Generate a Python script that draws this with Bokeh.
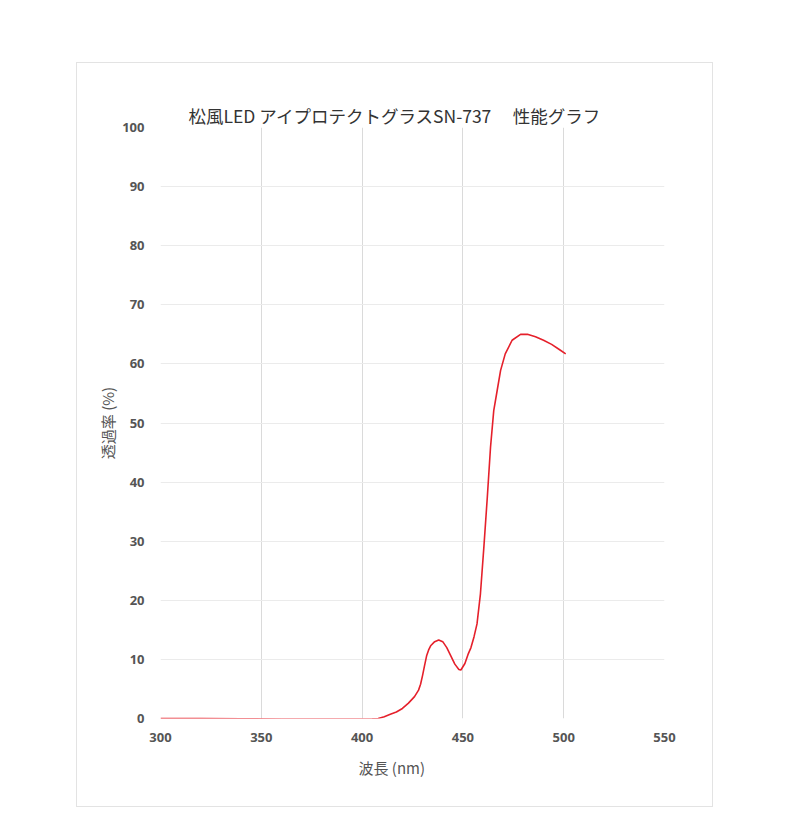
from bokeh.plotting import figure
from bokeh.models import Range1d, FixedTicker, Title
from bokeh.embed import file_html
from bokeh.resources import INLINE

# 波長 (nm) と 透過率 (%)
wavelength = [300, 320, 340, 360, 380, 400, 405, 408, 411, 414, 417, 420, 423, 426,
              428, 429, 430, 431, 432, 433, 434, 436, 438, 440, 442, 444, 446, 448,
              449, 451, 452.5, 454, 455.5, 457, 458.7, 460.4, 462.1, 463.7, 465.3,
              467, 468.7, 471, 474.4, 478.6, 482, 486, 490, 494, 498, 501]
transmit = [0.0, 0.0, -0.05, -0.1, -0.1, -0.1, -0.05, 0.0, 0.3, 0.7, 1.1, 1.7, 2.6, 3.7,
            4.8, 5.8, 7.3, 9.0, 10.6, 11.6, 12.3, 13.0, 13.3, 13.0, 12.0, 10.6, 9.2, 8.3,
            8.2, 9.3, 10.8, 12.0, 13.8, 16.0, 21.1, 29.0, 37.4, 45.9, 52.1,
            55.5, 58.9, 61.7, 64.0, 65.0, 65.0, 64.6, 64.0, 63.3, 62.4, 61.7]

x_ticks = [300, 350, 400, 450, 500, 550]
y_ticks = [0, 10, 20, 30, 40, 50, 60, 70, 80, 90, 100]

p = figure(width=780, height=830, output_backend="svg", toolbar_location=None,
           x_range=Range1d(300, 550), y_range=Range1d(0, 100),
           min_border_left=160, min_border_right=116,
           min_border_top=127, min_border_bottom=112)

p.line(wavelength, transmit, line_color="#e5202b", line_width=1.6)

# タイトル (外側)
p.title.text = "松風LED アイプロテクトグラスSN-737　 性能グラフ"
p.title.align = "left"
p.title.offset = 28
p.title.standoff = 0
p.title.text_font = "Noto Sans CJK JP"
p.title.text_font_style = "normal"
p.title.text_font_size = "17.5px"
p.title.text_color = "#333333"

# タイトルと枠の間の余白
p.add_layout(Title(text=" ", standoff=59, text_font_size="17.5px", text_alpha=0), "above")

# 軸
for ax in (p.xaxis, p.yaxis):
    ax.axis_line_color = None
    ax.major_tick_line_color = None
    ax.minor_tick_line_color = None
    ax.major_label_text_font = "Open Sans"
    ax.major_label_text_font_style = "bold"
    ax.major_label_text_font_size = "13px"
    ax.major_label_text_color = "#555555"
p.xaxis.ticker = FixedTicker(ticks=x_ticks)
p.yaxis.ticker = FixedTicker(ticks=y_ticks)
p.xaxis.major_label_standoff = 8
p.yaxis.major_label_standoff = 10

p.yaxis.axis_label = "透過率 (%)"
p.yaxis.axis_label_text_font = "Noto Sans CJK JP"
p.yaxis.axis_label_text_font_style = "normal"
p.yaxis.axis_label_text_font_size = "15px"
p.yaxis.axis_label_text_color = "#555555"
p.yaxis.axis_label_standoff = 1

p.add_layout(Title(text="波長 (nm)", align="left", offset=198, standoff=20,
                   text_font="Noto Sans CJK JP", text_font_style="normal",
                   text_font_size="15px", text_color="#555555"), "below")

# グリッド
p.xgrid.grid_line_color = "#dadada"
p.ygrid.grid_line_color = "#ebebeb"
p.xgrid.ticker = FixedTicker(ticks=x_ticks)
p.ygrid.ticker = FixedTicker(ticks=y_ticks)
p.outline_line_color = None

# 外枠
p.stylesheets = [":host { position: relative; } :host::after { content: ''; position: absolute;"
                 " left: 76px; top: 62px; width: 635px; height: 743px;"
                 " border: 1px solid #e3e3e3; pointer-events: none; }"]

open("out.html", "w").write(file_html(p, INLINE))
